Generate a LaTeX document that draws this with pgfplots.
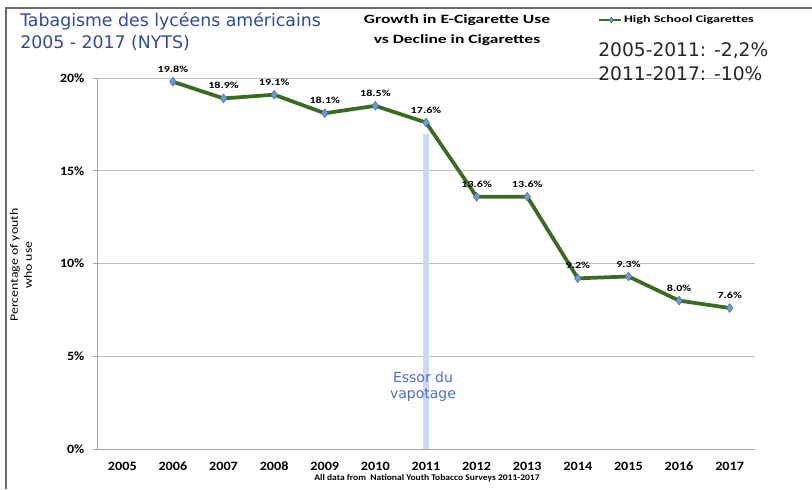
\documentclass[border=0pt]{standalone}
\usepackage{pgfplots}
\pgfplotsset{compat=1.18}
\usepackage{fontspec}
\setmainfont{Carlito}
\newfontfamily\dejavu{DejaVu Sans}
\newcommand{\wx}[2]{\scalebox{#1}[1]{#2}}
\definecolor{lineg}{HTML}{3B6B22}
\definecolor{mk}{HTML}{6A9AD8}
\definecolor{band}{HTML}{C9DAF2}
\definecolor{titleblue}{HTML}{2F4A9A}
\definecolor{essor}{HTML}{4D6FC2}
\definecolor{gridc}{HTML}{BFBFBF}
\definecolor{framec}{HTML}{6A6A6A}
\begin{document}
\begin{tikzpicture}
\useasboundingbox (0,0) rectangle (609pt,366.75pt);
\begin{axis}[
  at={(72.75pt,30pt)}, anchor=south west, scale only axis,
  width=493.5pt, height=278.25pt,
  xmin=2004.5, xmax=2017.5, ymin=0, ymax=20,
  axis lines=left, axis line style={-, gray!70, line width=0.6pt},
  xtick={2005,...,2017}, major x tick style={draw=none},
  extra x ticks={2004.5,2005.5,2006.5,2007.5,2008.5,2009.5,2010.5,2011.5,2012.5,2013.5,2014.5,2015.5,2016.5,2017.5},
  extra x tick labels={},
  extra x tick style={grid=none, xticklabel={}, major tick length=3pt, tick style={draw=gray!70, line width=0.6pt}},
  ytick={0,5,10,15,20}, ymajorgrids, grid style={gridc, line width=0.6pt},
  y tick style={draw=gray!70, line width=0.6pt}, major tick length=3pt,
  tick align=outside,
  xticklabel={\wx{1.12}{\pgfmathprintnumber[1000 sep={}]{\tick}}},
  yticklabel={\wx{1.1}{\pgfmathprintnumber{\tick}\%}},
  ticklabel style={font=\bfseries\fontsize{9.5}{11}\selectfont},
  xticklabel style={yshift=-3pt},
  yticklabel style={xshift=-3pt},
  /pgf/number format/assume math mode=true,
  clip=false,
  legend style={at={(0.761,1.156)}, anchor=west, draw=none, fill=none,
    font=\bfseries\fontsize{7.5}{8.5}\selectfont, inner sep=0pt,
    nodes={inner xsep=1pt}},
  legend image code/.code={\draw[#1, mark=none, line width=2pt] (0pt,0pt) -- (16.5pt,0pt); \draw[#1, only marks, mark size=2.2pt] plot coordinates {(9pt,0pt)};},
]
\addplot[band, line width=4.5pt, forget plot] coordinates {(2011,0) (2011,17)};
\addplot[lineg, line width=2.8pt, mark=diamond*, mark size=3.3pt,
  mark options={fill=mk, draw=mk!70!black, line width=0.4pt},
  nodes near coords={\wx{1.3}{\pgfmathprintnumber[fixed,precision=1,fixed zerofill]{\pgfplotspointmeta}\%}},
  every node near coord/.append style={font=\bfseries\fontsize{7}{8}\selectfont, text=black, anchor=south, yshift=3.5pt},
] coordinates {
(2006,19.8) (2007,18.9) (2008,19.1) (2009,18.1) (2010,18.5) (2011,17.6)
(2012,13.6) (2013,13.6) (2014,9.2) (2015,9.3) (2016,8.0) (2017,7.6)};
\addlegendentry{\wx{1.41}{High School Cigarettes}}
\end{axis}
\begin{scope}[x=0.75pt,y=-0.75pt,shift={(0pt,366.75pt)}]
\draw[framec, line width=2.2pt] (6,489) -- (6,8) -- (812,8);
\node[anchor=north west, align=left, text=titleblue, font=\dejavu\fontsize{13}{16.5}\selectfont, inner sep=0pt] at (20,12) {Tabagisme des lycéens américains\\2005 - 2017 (NYTS)};
\node[align=center, font=\bfseries\fontsize{9.5}{15}\selectfont, inner sep=0pt] at (457,30) {\wx{1.38}{Growth in E-Cigarette Use}\\\wx{1.38}{vs Decline in Cigarettes}};
\node[anchor=north west, align=left, text=black!85, font=\dejavu\fontsize{14}{18.5}\selectfont, inner sep=0pt] at (598,42) {2005-2011: -2,2\%\\2011-2017: -10\%};
\node[rotate=90, align=center, font=\fontsize{8.5}{10.5}\selectfont, inner sep=0pt] at (21,265) {\wx{1.22}{Percentage of youth}\\\wx{1.22}{who use}};
\node[font=\bfseries\fontsize{6.5}{8}\selectfont, inner sep=0pt] at (427,478) {\wx{1.1}{All data from\ \ National Youth Tobacco Surveys 2011-2017}};
\node[align=center, text=essor, font=\dejavu\fontsize{10.5}{12}\selectfont, inner sep=0pt] at (423,387) {Essor du\\vapotage};
\end{scope}
\end{tikzpicture}
\end{document}
